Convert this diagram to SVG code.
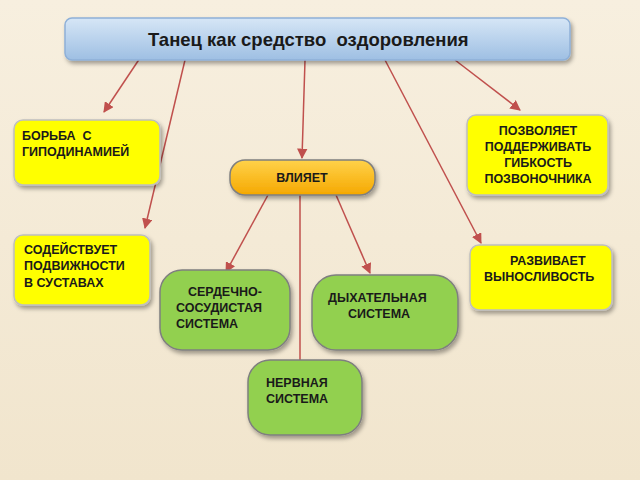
<svg xmlns="http://www.w3.org/2000/svg" width="640" height="480" viewBox="0 0 640 480">
<defs>
<linearGradient id="bg" x1="0" y1="0" x2="0" y2="1"><stop offset="0" stop-color="#f7efdf"/><stop offset="1" stop-color="#f1e5cd"/></linearGradient>
<linearGradient id="tg" x1="0" y1="0" x2="0" y2="1"><stop offset="0" stop-color="#d6e6f6"/><stop offset="1" stop-color="#9ebfe3"/></linearGradient>
<linearGradient id="og" x1="0" y1="0" x2="0" y2="1"><stop offset="0" stop-color="#ffd24a"/><stop offset="1" stop-color="#f5a800"/></linearGradient>
<filter id="sh" x="-10%" y="-10%" width="130%" height="140%"><feDropShadow dx="2" dy="3" stdDeviation="2" flood-color="#000" flood-opacity="0.35"/></filter>
<marker id="ar" viewBox="0 0 10 10" refX="9" refY="5" markerWidth="7" markerHeight="7" orient="auto"><path d="M0,0 L10,5 L0,10 z" fill="#c0504d"/></marker>
<style>
.y{fill:#ffff00;stroke:#bfbfbf;stroke-width:1.5;filter:url(#sh)}
.g{fill:#92d050;stroke:#7f7f7f;stroke-width:1.5;filter:url(#sh)}
.t{font-family:"Liberation Sans",Arial,sans-serif;font-weight:bold;font-size:12.5px;fill:#1a1a1a}
.c line{stroke:#c0504d;stroke-width:1.5;marker-end:url(#ar)}
</style>
</defs>
<rect width="640" height="480" fill="url(#bg)"/>
<g class="c">
<line x1="140" y1="58" x2="104" y2="112"/>
<line x1="185" y1="60" x2="145" y2="228"/>
<line x1="305" y1="60" x2="302" y2="158"/>
<line x1="385" y1="60" x2="481" y2="243"/>
<line x1="455" y1="60" x2="520" y2="110"/>
<line x1="268" y1="195" x2="226" y2="272"/>
<line x1="336" y1="195" x2="370" y2="273"/>
<line x1="300" y1="195" x2="300" y2="375"/>
</g>
<g id="title"><rect x="65" y="18" width="505" height="42" rx="7" fill="url(#tg)" stroke="#8eb0d8" stroke-width="1.5" filter="url(#sh)"/>
<text x="148" y="46" font-family="Liberation Sans,Arial,sans-serif" font-weight="bold" font-size="18.5" fill="#1a1a1a" xml:space="preserve">Танец как средство  оздоровления</text></g>
<g id="n1"><rect class="y" x="14" y="120" width="146" height="65" rx="9"/><text class="t" x="22" y="140" xml:space="preserve">БОРЬБА  С</text><text class="t" x="22" y="156">ГИПОДИНАМИЕЙ</text></g>
<g id="n2"><rect class="y" x="467" y="115" width="141" height="80" rx="9"/><text class="t" text-anchor="middle" x="538" y="135">ПОЗВОЛЯЕТ</text><text class="t" text-anchor="middle" x="538" y="151">ПОДДЕРЖИВАТЬ</text><text class="t" text-anchor="middle" x="538" y="167">ГИБКОСТЬ</text><text class="t" text-anchor="middle" x="538" y="183">ПОЗВОНОЧНИКА</text></g>
<g id="n3"><rect x="230" y="160" width="145" height="35" rx="15" fill="url(#og)" stroke="#7f7f7f" stroke-width="1.5" filter="url(#sh)"/><text class="t" text-anchor="middle" x="302" y="182">ВЛИЯЕТ</text></g>
<g id="n4"><rect class="y" x="14" y="235" width="136" height="70" rx="9"/><text class="t" x="24" y="254">СОДЕЙСТВУЕТ</text><text class="t" x="24" y="270">ПОДВИЖНОСТИ</text><text class="t" x="24" y="287">В СУСТАВАХ</text></g>
<g id="n5"><rect class="y" x="470" y="245" width="142" height="65" rx="9"/><text class="t" x="510" y="265">РАЗВИВАЕТ</text><text class="t" x="484" y="281">ВЫНОСЛИВОСТЬ</text></g>
<g id="n6"><rect class="g" x="160" y="270" width="130" height="80" rx="22"/><text class="t" x="188" y="296">СЕРДЕЧНО-</text><text class="t" x="176" y="312">СОСУДИСТАЯ</text><text class="t" x="176" y="328">СИСТЕМА</text></g>
<g id="n7"><rect class="g" x="312" y="275" width="146" height="75" rx="24"/><text class="t" x="328" y="302">ДЫХАТЕЛЬНАЯ</text><text class="t" x="348" y="318">СИСТЕМА</text></g>
<g id="n8"><rect class="g" x="248" y="360" width="114" height="75" rx="22"/><text class="t" x="266" y="387">НЕРВНАЯ</text><text class="t" x="266" y="403">СИСТЕМА</text></g>
</svg>
